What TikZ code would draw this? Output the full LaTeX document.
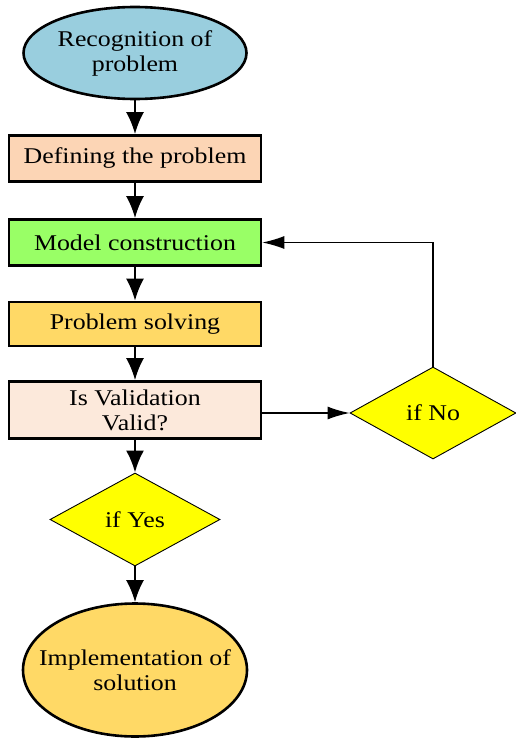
\documentclass[tikz,border=0pt]{standalone}
\usepackage{fontspec}
\setmainfont[FakeStretch=1.15]{Liberation Serif}
\usetikzlibrary{shapes.geometric,arrows.meta}

\definecolor{skyfill}{RGB}{153,206,222}
\definecolor{peachfill}{RGB}{252,213,181}
\definecolor{greenfill}{RGB}{153,255,102}
\definecolor{goldfill}{RGB}{255,217,102}
\definecolor{palefill}{RGB}{252,233,219}
\definecolor{yellowfill}{RGB}{255,255,0}

\tikzset{
  every node/.style={font=\fontsize{22.5}{25}\selectfont, align=center, inner sep=0pt},
  % negative side padding lets the minimum size fix the ellipse outline
  oval/.style={ellipse, draw, line width=2.6pt, inner xsep=-30pt},
  stepbox/.style={rectangle, draw, line width=2.6pt, minimum width=252pt, minimum height=46pt},
  choice/.style={diamond, draw, line width=0.9pt, fill=yellowfill},
  bigarrow/.style={line width=2.4pt, -{Latex[length=22pt,width=18pt]}},
  thinarrow/.style={line width=1.2pt, -{Latex[length=22pt,width=13pt]}}
}

\begin{document}
\begin{tikzpicture}[x=1pt,y=-1pt]
  \useasboundingbox (0,0) rectangle (516,741);

  % main column of the flow
  \node[oval, fill=skyfill, minimum width=223pt, minimum height=92pt] (rec) at (135,53) {Recognition of\\problem};
  \node[stepbox, fill=peachfill] (def) at (135,158.5) {Defining the problem};
  \node[stepbox, fill=greenfill] (mod) at (135,242.5) {Model construction};
  \node[stepbox, fill=goldfill, minimum height=44pt] (sol) at (135,324) {Problem solving};
  \node[stepbox, fill=palefill, minimum height=57pt] (val) at (135,410) {Is Validation\\Valid?};
  \node[choice, minimum width=170pt, minimum height=93pt] (yes) at (135,519.5) {if Yes};
  \node[oval, fill=goldfill, minimum width=224pt, minimum height=133pt] (imp) at (135,670) {Implementation of\\solution};

  % side branch
  \node[choice, minimum width=166pt, minimum height=92pt] (no) at (433,413) {if No};

  % connectors
  \draw[bigarrow] (rec) -- (def);
  \draw[bigarrow] (def) -- (mod);
  \draw[bigarrow] (mod) -- (sol);
  \draw[bigarrow] (sol) -- (val);
  \draw[bigarrow] (val) -- (yes);
  \draw[bigarrow] (yes) -- (imp);
  \draw[thinarrow] (val.east |- no.west) -- (no.west);
  \draw[thinarrow] (no.north) |- (mod.east);
\end{tikzpicture}
\end{document}
